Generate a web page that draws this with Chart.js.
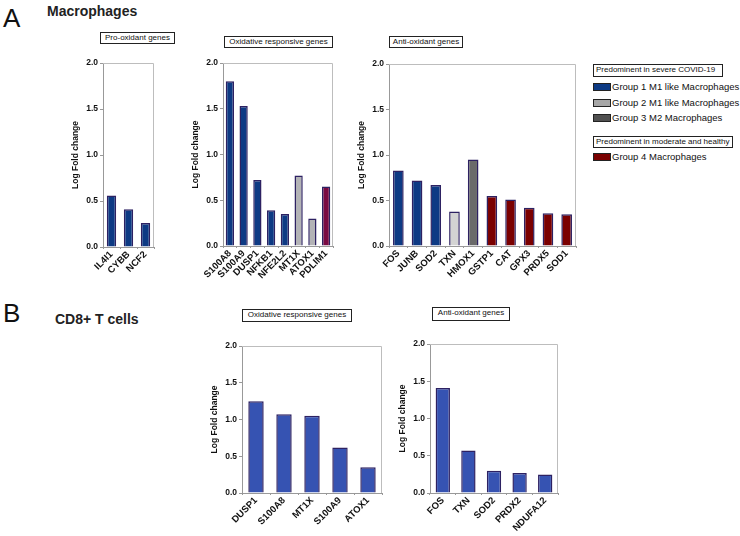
<!DOCTYPE html>
<html>
<head>
<meta charset="utf-8">
<script src="https://cdn.jsdelivr.net/npm/chart.js@4.4.1/dist/chart.umd.min.js"></script>
<style>
  body { margin: 0; background: #fff; font-family: "Liberation Sans", Arial, sans-serif; }
  #page { position: relative; width: 740px; height: 536px; overflow: hidden; }
  .abs { position: absolute; white-space: nowrap; }
  .letter { font-size: 26px; line-height: 26px; color: #111; }
  .heading { font-size: 14px; font-weight: bold; color: #222; }
  .tbox { border: 1px solid #222; font-size: 8px; line-height: 10px; padding: 0 2px; color: #111; box-sizing: border-box; text-align: center; }
  .leg { font-size: 9.5px; color: #111; line-height: 10px; }
  .sw { display: inline-block; width: 16px; height: 6px; border: 1px solid #222; vertical-align: -1px; margin-right: 1px; }
  canvas { position: absolute; }
</style>
</head>
<body>
<div id="page">
  <div class="abs letter" style="left:3px;top:5px;">A</div>
  <div class="abs heading" style="left:47px;top:3px;">Macrophages</div>
  <div class="abs letter" style="left:3px;top:300px;">B</div>
  <div class="abs heading" style="left:55px;top:311px;">CD8+ T cells</div>

  <div class="abs tbox" style="left:100px;top:32px;width:75px;height:12px;">Pro-oxidant genes</div>
  <div class="abs tbox" style="left:224px;top:36px;width:109px;height:12px;">Oxidative responsive genes</div>
  <div class="abs tbox" style="left:389px;top:36px;width:74px;height:12px;">Anti-oxidant genes</div>
  <div class="abs tbox" style="left:242px;top:309px;width:110px;height:13px;">Oxidative responsive genes</div>
  <div class="abs tbox" style="left:432px;top:307px;width:78px;height:14px;">Anti-oxidant genes</div>

  <div class="abs tbox" style="left:593px;top:64px;width:130px;height:13px;text-align:left;">Predominent in severe COVID-19</div>
  <div class="abs leg" style="left:593px;top:82px;"><span class="sw" style="background:#0d3a84"></span>Group 1 M1 like Macrophages</div>
  <div class="abs leg" style="left:593px;top:98px;"><span class="sw" style="background:#a6a6a6"></span>Group 2 M1 like Macrophages</div>
  <div class="abs leg" style="left:593px;top:113px;"><span class="sw" style="background:#505050"></span>Group 3 M2 Macrophages</div>
  <div class="abs tbox" style="left:593px;top:136px;width:140px;height:12px;text-align:left;">Predominent in moderate and healthy</div>
  <div class="abs leg" style="left:593px;top:152px;"><span class="sw" style="background:#7a0000"></span>Group 4 Macrophages</div>

  <canvas id="a1"></canvas>
  <canvas id="a2"></canvas>
  <canvas id="a3"></canvas>
  <canvas id="b1"></canvas>
  <canvas id="b2"></canvas>
</div>
<script>
// A - Macrophages
const a1Labels = ['IL4I1', 'CYBB', 'NCF2'];
const a1Values = [0.56, 0.41, 0.26];
const a1Groups = ['g1', 'g1', 'g1'];

const a2Labels = ['S100A8', 'S100A9', 'DUSP1', 'NFKB1', 'NFE2L2', 'MT1X', 'ATOX1', 'PDLIM1'];
const a2Values = [1.80, 1.53, 0.72, 0.39, 0.35, 0.77, 0.30, 0.65];
const a2Groups = ['g1', 'g1', 'g1', 'g1', 'g1', 'g2', 'g2', 'g4b'];

const a3Labels = ['FOS', 'JUNB', 'SOD2', 'TXN', 'HMOX1', 'GSTP1', 'CAT', 'GPX3', 'PRDX5', 'SOD1'];
const a3Values = [0.83, 0.72, 0.67, 0.38, 0.95, 0.55, 0.51, 0.42, 0.36, 0.35];
const a3Groups = ['g1', 'g1', 'g1', 'g2b', 'g3', 'g4', 'g4', 'g4', 'g4', 'g4'];

// B - CD8+ T cells
const b1Labels = ['DUSP1', 'S100A8', 'MT1X', 'S100A9', 'ATOX1'];
const b1Values = [1.25, 1.07, 1.05, 0.62, 0.35];
const b2Labels = ['FOS', 'TXN', 'SOD2', 'PRDX2', 'NDUFA12'];
const b2Values = [1.41, 0.57, 0.30, 0.27, 0.25];

const yTicks = [0, 0.5, 1.0, 1.5, 2.0];

// colores por grupo
const groupColor = {
  g1: '#0d3a84',
  g2: '#b3b3b6',
  g2b: '#d3d3d3',
  g3: '#6a6a6a',
  g4: '#7b0000',
  g4b: '#7a0a42',
  t: '#3653b2'
};

const Y_AXIS_W = 32;
const X_AXIS_H = 44;
const PAD_TOP = 8;
const PAD_RIGHT = 4;

// marco gris alrededor del área del gráfico
const framePlugin = {
  id: 'frame',
  afterDraw(chart) {
    const a = chart.chartArea;
    const ctx = chart.ctx;
    ctx.save();
    ctx.strokeStyle = '#bdbdbd';
    ctx.lineWidth = 1;
    ctx.beginPath();
    ctx.moveTo(a.left, a.top + 0.5);
    ctx.lineTo(a.right - 0.5, a.top + 0.5);
    ctx.lineTo(a.right - 0.5, a.bottom);
    ctx.stroke();
    ctx.restore();
  }
};

function makeChart(id, plotLeft, plotTop, plotW, plotH, labels, values, colors, barPct) {
  const canvas = document.getElementById(id);
  const w = Y_AXIS_W + plotW + PAD_RIGHT;
  const h = PAD_TOP + plotH + X_AXIS_H;
  canvas.width = w;
  canvas.height = h;
  canvas.style.width = w + 'px';
  canvas.style.height = h + 'px';
  canvas.style.left = (plotLeft - Y_AXIS_W) + 'px';
  canvas.style.top = (plotTop - PAD_TOP) + 'px';

  return new Chart(canvas, {
    type: 'bar',
    data: {
      labels: labels,
      datasets: [{
        data: values,
        backgroundColor: colors,
        borderColor: '#2d2162',
        borderWidth: 1.5,
        barPercentage: barPct,
        categoryPercentage: 1
      }]
    },
    options: {
      responsive: false,
      animation: false,
      devicePixelRatio: 1,
      layout: { padding: { top: PAD_TOP, right: PAD_RIGHT, left: 0, bottom: 0 } },
      plugins: { legend: { display: false }, tooltip: { enabled: false } },
      scales: {
        x: {
          afterFit: s => { s.height = X_AXIS_H; },
          grid: { display: true, drawOnChartArea: false, drawTicks: true, tickLength: 2, color: '#999' },
          border: { display: true, color: '#999' },
          ticks: {
            autoSkip: false,
            maxRotation: 45,
            minRotation: 45,
            padding: 0,
            color: '#111',
            font: { family: 'Liberation Sans', size: 9.5, weight: 'bold' }
          }
        },
        y: {
          min: 0,
          max: 2,
          afterFit: s => { s.width = Y_AXIS_W; },
          afterBuildTicks: s => { s.ticks = yTicks.map(v => ({ value: v })); },
          grid: { display: true, drawOnChartArea: false, drawTicks: true, tickLength: 3, color: '#999' },
          border: { display: true, color: '#999' },
          title: {
            display: true,
            text: 'Log Fold change',
            padding: 0,
            color: '#111',
            font: { family: 'Liberation Sans', size: 8.5, weight: 'bold' }
          },
          ticks: {
            padding: 2,
            color: '#111',
            callback: v => v.toFixed(1),
            font: { family: 'Liberation Sans', size: 8.5, weight: 'bold' }
          }
        }
      }
    },
    plugins: [framePlugin]
  });
}

makeChart('a1', 103, 63, 51, 184, a1Labels, a1Values, a1Groups.map(g => groupColor[g]), 0.55);
makeChart('a2', 223, 63, 110, 183, a2Labels, a2Values, a2Groups.map(g => groupColor[g]), 0.6);
makeChart('a3', 389, 64, 187, 182, a3Labels, a3Values, a3Groups.map(g => groupColor[g]), 0.57);
makeChart('b1', 242, 346, 140, 147, b1Labels, b1Values, b1Labels.map(() => groupColor.t), 0.55);
makeChart('b2', 430, 344, 128, 149, b2Labels, b2Values, b2Labels.map(() => groupColor.t), 0.56);
</script>
</body>
</html>
